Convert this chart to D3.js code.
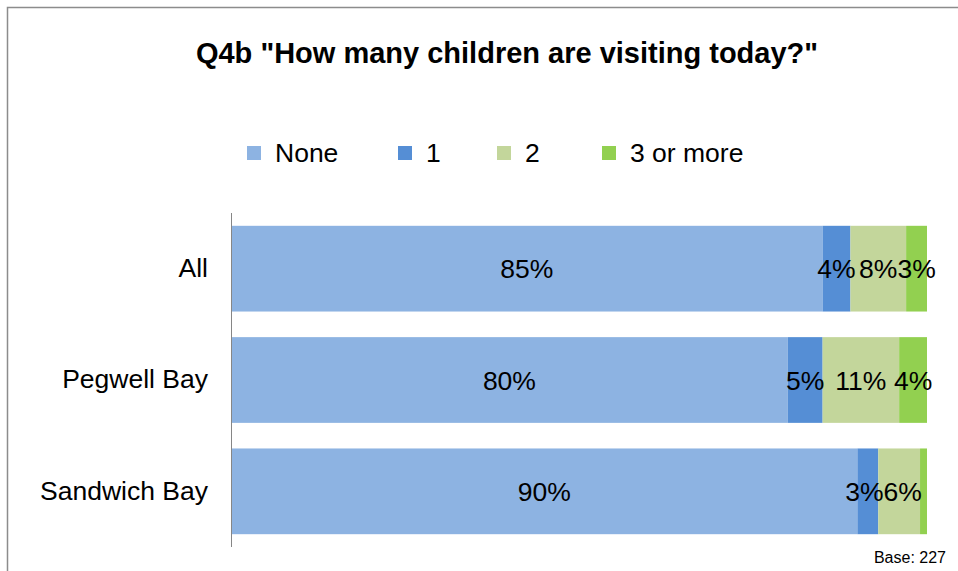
<!DOCTYPE html>
<html>
<head>
<meta charset="utf-8">
<script src="https://cdn.jsdelivr.net/npm/d3@7"></script>
<style>
  html, body { margin: 0; padding: 0; background: #fff; }
  svg { display: block; font-family: "Liberation Sans", Arial, sans-serif; }
</style>
</head>
<body>
<svg id="chart" width="958" height="571"></svg>
<script>
// Survey responses: number of children visiting, share of respondents (%)
const categories = ["All", "Pegwell Bay", "Sandwich Bay"];
const seriesNames = ["None", "1", "2", "3 or more"];
const none = [85, 80, 90];
const one = [4, 5, 3];
const two = [8, 11, 6];
const threePlus = [3, 4, 1];
const seriesColors = ["#8DB3E2", "#558ED5", "#C3D69B", "#92D050"];
const xTicks = [0, 100];
const titleText = 'Q4b "How many children are visiting today?"';
const baseText = "Base: 227";

const svg = d3.select("#chart");

// outer frame (top and left edges visible)
svg.append("path")
  .attr("d", "M7.5,571 V7.5 H958")
  .attr("fill", "none")
  .attr("stroke", "#8c8c8c")
  .attr("stroke-width", 1.5);

svg.append("text")
  .attr("x", 507).attr("y", 63)
  .attr("text-anchor", "middle")
  .attr("font-size", 29).attr("font-weight", "bold")
  .attr("fill", "#000")
  .text(titleText);

// legend
const legendX = [247, 398, 497, 602];
const legend = svg.append("g");
seriesNames.forEach((name, i) => {
  legend.append("rect")
    .attr("x", legendX[i]).attr("y", 146)
    .attr("width", 14).attr("height", 14)
    .attr("fill", seriesColors[i]);
  legend.append("text")
    .attr("x", legendX[i] + 28).attr("y", 162)
    .attr("font-size", 26.5).attr("fill", "#000")
    .text(name);
});

const rows = categories.map((c, i) => ({
  category: c,
  None: none[i], "1": one[i], "2": two[i], "3 or more": threePlus[i]
}));

const stacked = d3.stack().keys(seriesNames)(rows);

const x = d3.scaleLinear().domain(d3.extent(xTicks)).range([231, 927]);
const y = d3.scaleBand().domain(categories).range([213, 547])
  .paddingInner(0.23).paddingOuter(0.115);

const layers = svg.append("g").selectAll("g")
  .data(stacked).join("g")
  .attr("fill", (d, i) => seriesColors[i]);

layers.selectAll("rect")
  .data(d => d.map(s => ({ s, key: d.key })))
  .join("rect")
  .attr("x", d => x(d.s[0]))
  .attr("y", d => y(d.s.data.category))
  .attr("width", d => x(d.s[1]) - x(d.s[0]))
  .attr("height", y.bandwidth());

// value labels (segments too thin to label are left blank)
const labelLayer = svg.append("g");
const labelData = [];
stacked.forEach(layer => {
  layer.forEach(s => {
    const v = s.data[layer.key];
    if (v >= 2) labelData.push({ s, v, cat: s.data.category, cx: (x(s[0]) + x(s[1])) / 2 });
  });
});
const labels = labelLayer.selectAll("text")
  .data(labelData)
  .join("text")
  .attr("x", d => d.cx)
  .attr("y", d => y(d.cat) + y.bandwidth() / 2)
  .attr("dy", "0.36em")
  .attr("text-anchor", "middle")
  .attr("font-size", 26.5)
  .attr("fill", "#000")
  .text(d => d.v + "%");

// nudge neighbouring labels apart where they would collide
labels.each(function (d) { d.w = this.getComputedTextLength(); });
categories.forEach(cat => {
  const row = labelData.filter(d => d.cat === cat).sort((a, b) => a.cx - b.cx);
  for (let i = 1; i < row.length; i++) {
    const a = row[i - 1], b = row[i];
    const overlap = (a.cx + a.w / 2) - (b.cx - b.w / 2);
    if (overlap > 0) { a.cx -= overlap / 2; b.cx += overlap / 2; }
  }
});
labels.attr("x", d => d.cx);

// category axis
const yAxis = svg.append("g")
  .attr("transform", `translate(${x(0)},0)`)
  .call(d3.axisLeft(y).tickSize(0).tickPadding(23));
yAxis.select(".domain").attr("stroke", "#868686").attr("stroke-width", 1)
  .attr("d", "M0.5,213V547");
yAxis.selectAll("text")
  .attr("font-size", 26.5)
  .attr("font-family", '"Liberation Sans", Arial, sans-serif')
  .attr("fill", "#000");

svg.append("text")
  .attr("x", 946).attr("y", 563)
  .attr("text-anchor", "end")
  .attr("font-size", 16).attr("fill", "#000")
  .text(baseText);
</script>
</body>
</html>
